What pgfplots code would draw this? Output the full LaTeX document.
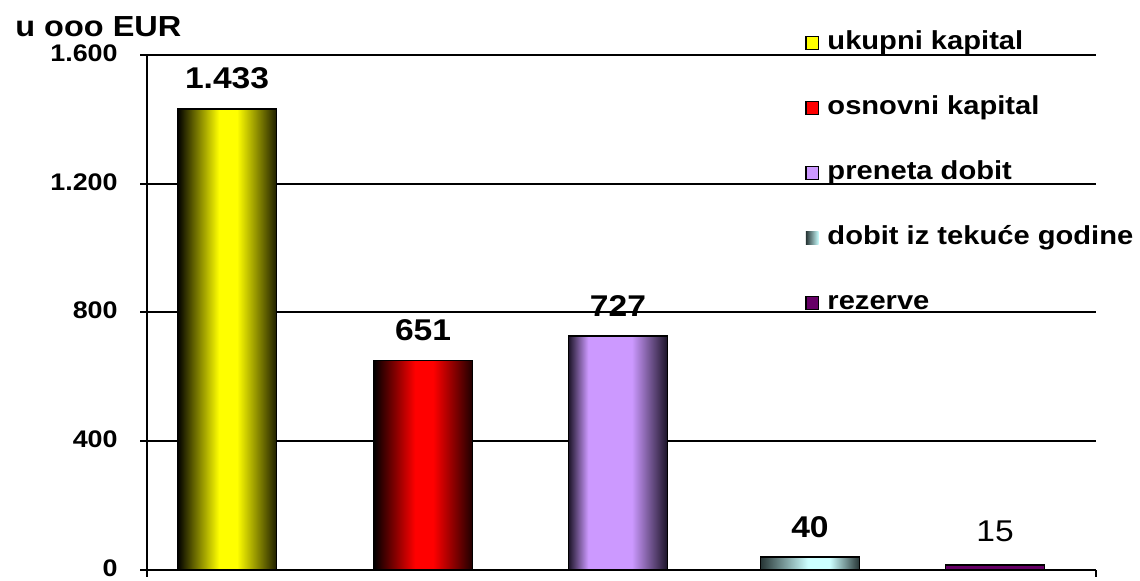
\documentclass[border=0pt]{standalone}
\usepackage{fontspec}
\setmainfont{Liberation Sans}[FakeStretch=1.12]
\usepackage{pgfplots}
\pgfplotsset{compat=1.18}

\definecolor{cYel}{HTML}{FFFF00}
\definecolor{cYelD}{HTML}{1E1E00}
\definecolor{cRed}{HTML}{FF0000}
\definecolor{cRedD}{HTML}{1E0000}
\definecolor{cLav}{HTML}{CC99FF}
\definecolor{cLavD}{HTML}{1C1428}
\definecolor{cCy}{HTML}{CCFFFF}
\definecolor{cCyD}{HTML}{263434}
\definecolor{cPur}{HTML}{660066}

\pgfdeclarehorizontalshading{shYel}{100bp}{color(0bp)=(black); color(25bp)=(black); color(46bp)=(cYel); color(55bp)=(cYel); color(75bp)=(cYelD); color(100bp)=(cYelD)}
\pgfdeclarehorizontalshading{shRed}{100bp}{color(0bp)=(black); color(25bp)=(black); color(46bp)=(cRed); color(55bp)=(cRed); color(75bp)=(cRedD); color(100bp)=(cRedD)}
\pgfdeclarehorizontalshading{shLav}{100bp}{color(0bp)=(cLavD); color(25bp)=(cLavD); color(35bp)=(cLav); color(57bp)=(cLav); color(75bp)=(cLavD); color(100bp)=(cLavD)}
\pgfdeclarehorizontalshading{shCy}{100bp}{color(0bp)=(cCyD); color(25bp)=(cCyD); color(49bp)=(cCy); color(60bp)=(cCy); color(75bp)=(cCyD); color(100bp)=(cCyD)}

\begin{document}
\begin{tikzpicture}
\begin{axis}[
  at={(73.5pt,5.5pt)}, anchor=south west,
  scale only axis, width=474.5pt, height=257.5pt,
  xmin=-0.417, xmax=4.526, ymin=0, ymax=1600,
  axis x line*=bottom, axis y line*=left,
  axis line style={black, line width=1pt},
  xtick={-0.417,4.526}, xticklabels={,},
  ytick={0,400,800,1200,1600},
  tick align=outside, major tick length=3.5pt,
  tick style={black, line width=1pt},
  ymajorgrids, grid style={black, line width=1pt},
  /pgf/number format/1000 sep={.},
  /pgf/number format/assume math mode=true,
  yticklabel style={font=\fontsize{12}{14}\selectfont\bfseries, inner sep=0pt, text depth=0pt, xshift=-11pt, yshift=1pt},
  nodes near coords,
  every node near coord/.append style={font=\fontsize{15}{17}\selectfont\bfseries, inner sep=0pt, yshift=9.5pt, anchor=south},
  legend style={at={(0.693,1.0483)}, anchor=north west, draw=none, fill=none,
    inner sep=0pt, row sep=20pt,
    font=\fontsize{13}{15}\selectfont\bfseries,
    nodes={inner sep=0pt, text height=9.5pt, text depth=3pt},
    /tikz/every odd column/.append style={column sep=4pt}},
  legend cell align=left,
]
\addplot[ybar, bar shift=0pt, bar width=49.5pt, draw=black, line width=0.8pt, shade, shading=shYel,
  legend image code/.code={\draw[left color=cYel, right color=cYel, draw=black, line width=0.8pt] (0pt,-3.2pt) rectangle (6.4pt,3.2pt);}]
  coordinates {(0,1433)};
\addlegendentry{ukupni kapital}
\addplot[ybar, bar shift=0pt, bar width=49.5pt, draw=black, line width=0.8pt, shade, shading=shRed,
  legend image code/.code={\draw[left color=cRed, right color=cRed, draw=black, line width=0.8pt] (0pt,-3.2pt) rectangle (6.4pt,3.2pt);}]
  coordinates {(1.021,651)};
\addlegendentry{osnovni kapital}
\addplot[ybar, bar shift=0pt, bar width=49.5pt, draw=black, line width=0.8pt, shade, shading=shLav,
  legend image code/.code={\draw[left color=cLav, right color=cLav, draw=black, line width=0.8pt] (0pt,-3.2pt) rectangle (6.4pt,3.2pt);}]
  coordinates {(2.036,727)};
\addlegendentry{preneta dobit}
\addplot[ybar, bar shift=0pt, bar width=49.5pt, draw=black, line width=0.8pt, shade, shading=shCy,
  legend image code/.code={\draw[left color=cCyD, right color=cCy, draw=none] (0pt,-3.2pt) rectangle (6.4pt,3.2pt);}]
  coordinates {(3.036,40)};
\addlegendentry{dobit iz tekuće godine}
\addplot[ybar, bar shift=0pt, bar width=49.5pt, draw=black, line width=0.8pt, fill=cPur,
  every node near coord/.append style={font=\fontsize{15}{17}\selectfont\mdseries, yshift=2pt},
  legend image code/.code={\draw[fill=cPur, draw=black, line width=0.8pt] (0pt,-3.2pt) rectangle (6.4pt,3.2pt);}]
  coordinates {(4,15)};
\addlegendentry{rezerve}
\end{axis}
\node[anchor=base west, font=\fontsize{14.5}{16}\selectfont\bfseries, inner sep=0pt] at (7.5pt,272pt) {u ooo EUR};
\pgfresetboundingbox
\useasboundingbox (0,0) rectangle (570pt,290.5pt);
\end{tikzpicture}
\end{document}
